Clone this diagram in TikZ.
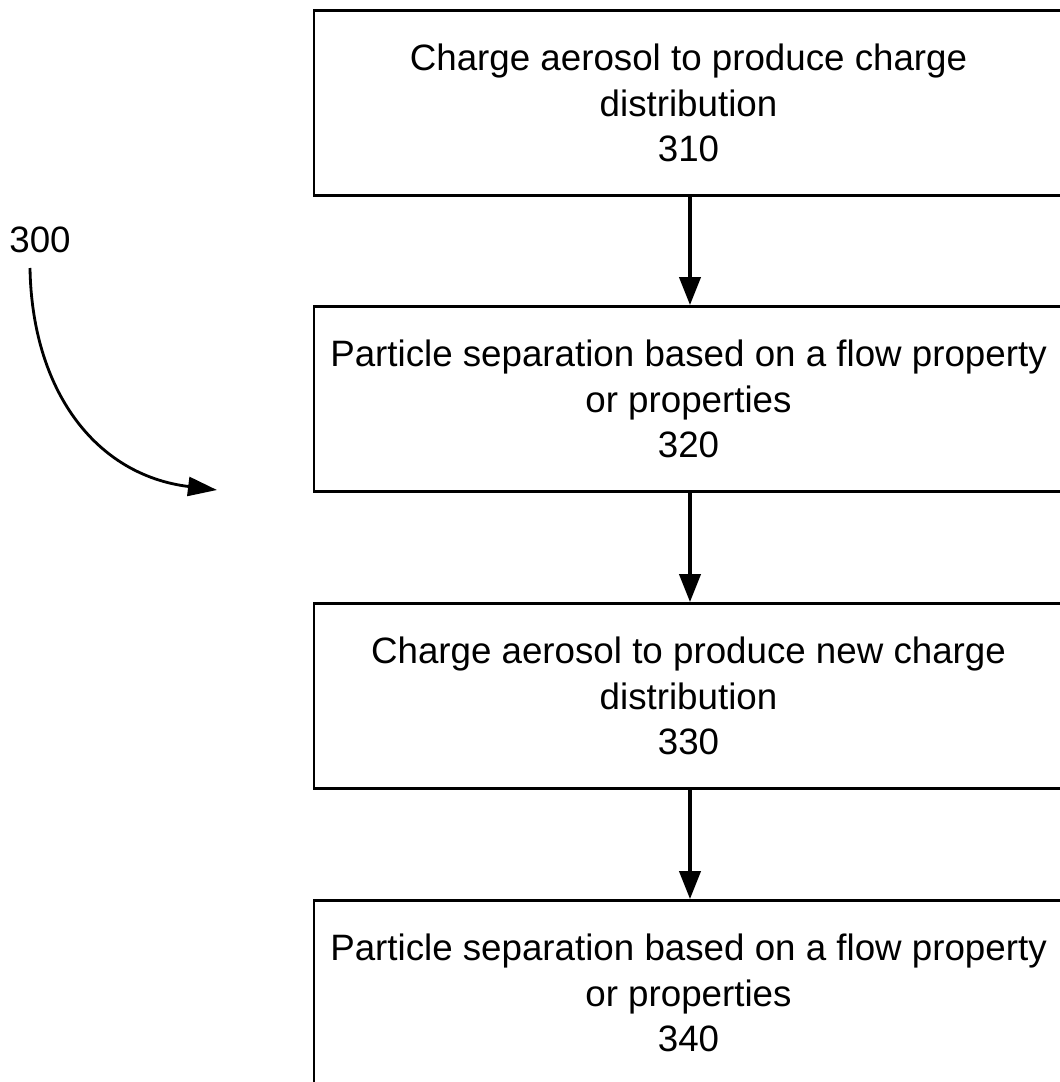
\documentclass[tikz,border=0pt]{standalone}
\usepackage{fontspec}
\setmainfont{Liberation Sans}
\usetikzlibrary{arrows.meta}
\begin{document}
\begin{tikzpicture}[x=0.02cm,y=-0.02cm,
  stepbox/.style={draw,line width=1.6pt,minimum width=14.98cm,minimum height=3.7cm,
    inner sep=0pt,align=center,font=\fontsize{20.9}{25.8}\selectfont},
  flow/.style={line width=2.3pt,-{Triangle[length=0.56cm,width=0.42cm]}},
  lbl/.style={font=\fontsize{20.9}{25.8}\selectfont,inner sep=0pt}]
  \useasboundingbox (0,0) rectangle (1060,1082);
  % process steps (right border runs past the page edge)
  \node[stepbox] (s310) at (688.5,103) {Charge aerosol to produce charge\\distribution\\310};
  \node[stepbox] (s320) at (688.5,399) {Particle separation based on a flow property\\or properties\\320};
  \node[stepbox] (s330) at (688.5,696) {Charge aerosol to produce new charge\\distribution\\330};
  \node[stepbox] (s340) at (688.5,993) {Particle separation based on a flow property\\or properties\\340};
  % flow between steps
  \draw[flow] ([xshift=1.5*0.02cm]s310.south) -- ([xshift=1.5*0.02cm]s320.north);
  \draw[flow] ([xshift=1.5*0.02cm]s320.south) -- ([xshift=1.5*0.02cm]s330.north);
  \draw[flow] ([xshift=1.5*0.02cm]s330.south) -- ([xshift=1.5*0.02cm]s340.north);
  % reference numeral with its pointer
  \node[lbl] (ref) at (40,240) {300};
  \coordinate (c0) at (30,268);
  \coordinate (tip) at (217,490);
  \draw[line width=1.6pt,-{Triangle[length=0.58cm,width=0.38cm]}]
    (c0) .. controls (32,390) and (95,475) .. (tip);
\end{tikzpicture}
\end{document}
